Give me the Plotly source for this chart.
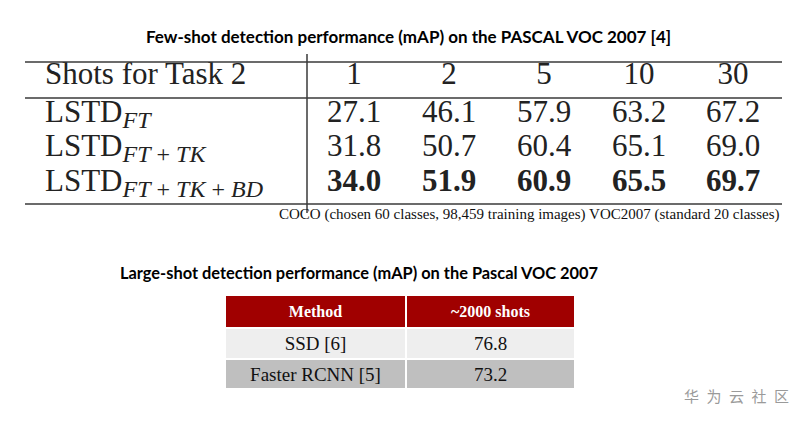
import plotly.graph_objects as go

# ---------------- data ----------------
title_few = "Few-shot detection performance (mAP) on the PASCAL VOC 2007 [4]"
shots_label = "Shots for Task 2"
shots = ["1", "2", "5", "10", "30"]
method_base = ["LSTD", "LSTD", "LSTD"]
method_subs = ["FT", "FT+TK", "FT+TK+BD"]
map_ft = [27.1, 46.1, 57.9, 63.2, 67.2]
map_ft_tk = [31.8, 50.7, 60.4, 65.1, 69.0]
map_ft_tk_bd = [34.0, 51.9, 60.9, 65.5, 69.7]
caption = "COCO (chosen 60 classes, 98,459 training images) VOC2007 (standard 20 classes)"

title_large = "Large-shot detection performance (mAP) on the Pascal VOC 2007"
large_header = ["Method", "~2000 shots"]
large_methods = ["SSD [6]", "Faster RCNN [5]"]
large_map = [76.8, 73.2]

watermark = "华为云社区"

# ---------------- layout constants ----------------
VW, VH = 805, 421          # browser window
PAD = 8                    # default page margin of the html body
W, H = VW - PAD, VH - PAD  # figure size so it fits the window exactly
SERIF = "Liberation Serif, Times New Roman, serif"
SANS = "Lato, Open Sans, sans-serif"
COL_X = [354, 449, 544, 639, 733]
LABEL_X = 45
HEADER_Y = 76
ROW_Y = [114, 148, 183]
LINE_X0, LINE_X1 = 25, 782


def px(xp):
    return (xp - PAD) / W


def py(yp):
    return 1 - (yp - PAD) / H


fig = go.Figure()

# header row
fig.add_trace(go.Scatter(x=[LABEL_X], y=[HEADER_Y], mode="text", text=[shots_label],
                         textposition="middle right",
                         textfont=dict(family=SERIF, size=31, color="#222222"),
                         hoverinfo="skip", showlegend=False))
fig.add_trace(go.Scatter(x=COL_X, y=[HEADER_Y] * len(shots), mode="text", text=shots,
                         textposition="middle center",
                         textfont=dict(family=SERIF, size=31, color="#222222"),
                         hoverinfo="skip", showlegend=False))

# method rows
rows = [map_ft, map_ft_tk, map_ft_tk_bd]
best = [max(col) for col in zip(*rows)]


def sub_html(s):
    parts = s.split("+")
    inner = " + ".join(f"<i>{p}</i>" for p in parts)
    return f"<span style='font-size:24px'>{inner}</span>"


labels = [f"{b}<sub>{sub_html(s)}</sub>" for b, s in zip(method_base, method_subs)]
fig.add_trace(go.Scatter(x=[LABEL_X] * 3, y=ROW_Y, mode="text", text=labels,
                         textposition="middle right",
                         textfont=dict(family=SERIF, size=31, color="#222222"),
                         hoverinfo="skip", showlegend=False))
for vals, ry in zip(rows, ROW_Y):
    txt = [f"<b>{v:.1f}</b>" if v == b else f"{v:.1f}" for v, b in zip(vals, best)]
    fig.add_trace(go.Scatter(x=COL_X, y=[ry] * len(vals), mode="text", text=txt,
                             textposition="middle center",
                             textfont=dict(family=SERIF, size=31, color="#222222"),
                             hoverinfo="skip", showlegend=False))

# rules of the booktabs-like table
line_style = dict(color="#3a3a3a", width=1.5)
for yy in [62, 98, 204]:
    fig.add_shape(type="line", x0=LINE_X0, x1=LINE_X1, y0=yy, y1=yy, xref="x", yref="y",
                  line=line_style)
fig.add_shape(type="line", x0=307, x1=307, y0=54, y1=213, xref="x", yref="y", line=line_style)

# caption
fig.add_annotation(x=781, y=214, xref="x", yref="y", text=caption, showarrow=False,
                   xanchor="right", yanchor="middle",
                   font=dict(family=SERIF, size=15, color="#111111"))

# titles
fig.add_annotation(x=408, y=36, xref="x", yref="y", text=f"<b>{title_few}</b>", showarrow=False,
                   xanchor="center", yanchor="middle",
                   font=dict(family=SANS, size=17, color="black"))
fig.add_annotation(x=359, y=272, xref="x", yref="y", text=f"<b>{title_large}</b>", showarrow=False,
                   xanchor="center", yanchor="middle",
                   font=dict(family=SANS, size=16.4, color="black"))

# large-shot table
fig.add_trace(go.Table(
    domain=dict(x=[px(225), px(575)], y=[py(388), py(295)]),
    columnwidth=[181, 169],
    header=dict(values=[f"<b>{h}</b>" for h in large_header],
                fill_color="#A00000", line=dict(color="white", width=1.5),
                font=dict(family=SERIF, size=16, color="white"), align="center", height=28),
    cells=dict(values=[large_methods, [f"{v:.1f}" for v in large_map]],
               fill_color=[["#EEEEEE", "#BFBFBF"]] * 2, line=dict(color="white", width=1.5),
               font=dict(family=SERIF, size=19, color="#111111"), align="center", height=31),
))

# watermark
fig.add_annotation(x=791, y=395, xref="x", yref="y", text="\u2002".join(watermark), showarrow=False,
                   xanchor="right", yanchor="middle",
                   font=dict(family="Noto Sans CJK SC", size=15, color="#9a9a9a"))

fig.update_layout(
    width=W, height=H, margin=dict(l=0, r=0, t=0, b=0),
    paper_bgcolor="white", plot_bgcolor="white",
    xaxis=dict(range=[PAD, VW], visible=False, fixedrange=True, domain=[0, 1]),
    yaxis=dict(range=[VH, PAD], visible=False, fixedrange=True, domain=[0, 1]),
)

fig.write_html("out.html")
